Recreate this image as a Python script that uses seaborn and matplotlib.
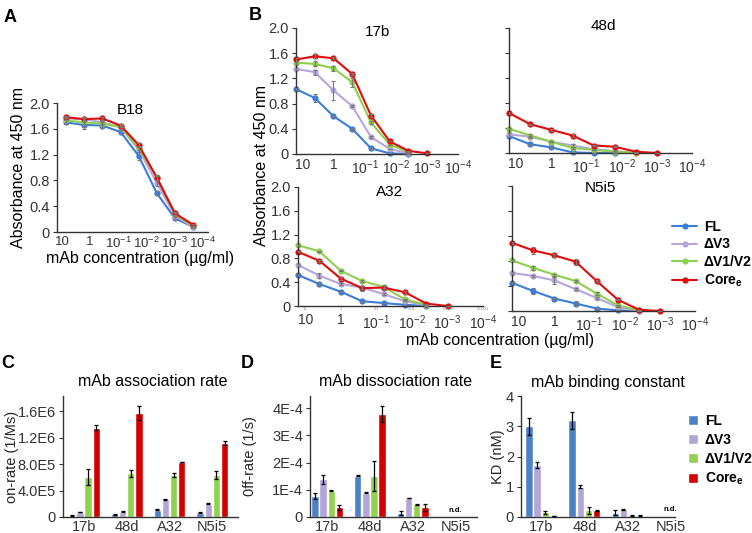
import matplotlib
matplotlib.use('Agg')
import matplotlib.pyplot as plt
from matplotlib.ticker import FixedLocator, FixedFormatter, NullLocator
import numpy as np
import pandas as pd
import seaborn as sns

nan = np.nan

# construções e cores
construcoes = ['FL', 'ΔV3', 'ΔV1/V2', 'Core$_{\\mathbf{e}}$']
cores_linha = ['#3b7dd8', '#b6a6dc', '#8dcf4e', '#e00c0c']
cores_barra = ['#4b82c6', '#b4a5d7', '#91d14f', '#d40000']

# A - B18 (ordem: FL, dV3, dV1/V2, Core)
conc_a = [7.4, 1.66, 0.37, 0.083, 0.019, 0.0043, 0.00098, 0.00022]
b18 = [
    [1.70, 1.66, 1.65, 1.55, 1.18, 0.60, 0.21, 0.08],
    [1.76, 1.75, 1.70, 1.62, 1.28, 0.76, 0.25, 0.08],
    [1.73, 1.70, 1.68, 1.63, 1.30, 0.85, 0.28, 0.09],
    [1.78, 1.75, 1.76, 1.65, 1.35, 0.84, 0.29, 0.11],
]
b18_err = [
    [0.03, 0.06, 0.03, 0.03, 0.06, 0.03, 0.02, 0.02],
    [0.02, 0.03, 0.02, 0.03, 0.04, 0.04, 0.02, 0.01],
    [0.05, 0.02, 0.02, 0.03, 0.03, 0.04, 0.02, 0.01],
    [0.02, 0.02, 0.02, 0.02, 0.03, 0.03, 0.02, 0.01],
]

# B - diluições das curvas
conc_b = [16, 4, 1, 0.25, 0.0625, 0.0156, 0.0039, 0.00098]
m17b = [
    [1.03, 0.89, 0.60, 0.40, 0.09, 0.01, 0.0, nan],
    [1.35, 1.30, 1.01, 0.76, 0.27, 0.08, 0.01, nan],
    [1.45, 1.43, 1.36, 1.14, 0.50, 0.15, 0.03, nan],
    [1.50, 1.55, 1.52, 1.27, 0.61, 0.20, 0.05, 0.01],
]
m17b_err = [
    [0.02, 0.06, 0.01, 0.02, 0.01, 0.0, 0.0, 0.0],
    [0.02, 0.04, 0.15, 0.02, 0.02, 0.0, 0.0, 0.0],
    [0.02, 0.04, 0.04, 0.07, 0.02, 0.0, 0.0, 0.0],
    [0.02, 0.03, 0.02, 0.02, 0.02, 0.0, 0.0, 0.0],
]
m48d = [
    [0.27, 0.14, 0.09, 0.01, 0.0, 0.0, nan, nan],
    [0.30, 0.26, 0.18, 0.12, 0.06, 0.03, 0.0, nan],
    [0.39, 0.28, 0.18, 0.08, 0.05, 0.02, 0.0, nan],
    [0.64, 0.46, 0.37, 0.28, 0.12, 0.10, 0.02, 0.0],
]
m48d_err = [
    [0.01, 0.01, 0.01, 0.0, 0.0, 0.0, 0.0, 0.0],
    [0.02, 0.02, 0.01, 0.02, 0.01, 0.0, 0.0, 0.0],
    [0.01, 0.02, 0.01, 0.01, 0.0, 0.0, 0.0, 0.0],
    [0.01, 0.01, 0.01, 0.02, 0.01, 0.01, 0.0, 0.0],
]
a32 = [
    [0.52, 0.37, 0.24, 0.08, 0.05, 0.02, 0.0, nan],
    [0.69, 0.51, 0.37, 0.31, 0.20, 0.08, 0.01, nan],
    [1.02, 0.92, 0.59, 0.42, 0.32, 0.11, 0.02, nan],
    [0.91, 0.76, 0.46, 0.30, 0.31, 0.23, 0.04, 0.0],
]
a32_err = [
    [0.01, 0.01, 0.01, 0.01, 0.0, 0.0, 0.0, 0.0],
    [0.02, 0.04, 0.02, 0.02, 0.02, 0.0, 0.0, 0.0],
    [0.01, 0.01, 0.01, 0.02, 0.01, 0.01, 0.0, 0.0],
    [0.01, 0.02, 0.02, 0.04, 0.04, 0.02, 0.0, 0.0],
]
n5i5 = [
    [0.45, 0.32, 0.20, 0.12, 0.04, 0.01, 0.0, nan],
    [0.61, 0.56, 0.49, 0.35, 0.21, 0.06, 0.0, nan],
    [0.81, 0.69, 0.58, 0.48, 0.28, 0.09, 0.01, nan],
    [1.09, 0.97, 0.89, 0.79, 0.48, 0.18, 0.02, 0.0],
]
n5i5_err = [
    [0.02, 0.05, 0.01, 0.04, 0.01, 0.0, 0.0, 0.0],
    [0.01, 0.02, 0.05, 0.02, 0.01, 0.0, 0.0, 0.0],
    [0.01, 0.03, 0.02, 0.02, 0.02, 0.01, 0.0, 0.0],
    [0.01, 0.05, 0.02, 0.05, 0.02, 0.01, 0.0, 0.0],
]

# C, D, E - cinética
mabs = ['17b', '48d', 'A32', 'N5i5']
on_rate = [
    [2.0e4, 4.0e4, 1.1e5, 6.5e4],
    [7.5e4, 8.0e4, 2.7e5, 2.0e5],
    [6.0e5, 6.6e5, 6.4e5, 6.4e5],
    [1.35e6, 1.57e6, 8.3e5, 1.12e6],
]
on_err = [
    [5e3, 5e3, 5e3, 5e3],
    [6e3, 5e3, 8e3, 6e3],
    [1.2e5, 5e4, 3e4, 6e4],
    [4e4, 1.1e5, 0, 3e4],
]
off_rate = [
    [0.77e-4, 1.52e-4, 0.15e-4, nan],
    [1.39e-4, 0.89e-4, 0.70e-4, nan],
    [0.97e-4, 1.52e-4, 0.47e-4, nan],
    [0.35e-4, 3.80e-4, 0.35e-4, nan],
]
off_err = [
    [0.12e-4, 0.01e-4, 0.08e-4, 0],
    [0.17e-4, 0.02e-4, 0.01e-4, 0],
    [0.02e-4, 0.55e-4, 0.02e-4, 0],
    [0.10e-4, 0.30e-4, 0.12e-4, 0],
]
kd = [
    [3.0, 3.2, 0.14, nan],
    [1.72, 1.0, 0.25, nan],
    [0.15, 0.22, 0.06, nan],
    [0.03, 0.22, 0.04, nan],
]
kd_err = [
    [0.28, 0.28, 0.08, 0],
    [0.10, 0.05, 0.02, 0],
    [0.05, 0.12, 0.02, 0],
    [0.01, 0.02, 0.01, 0],
]

sns.set_theme(style='ticks')
plt.rcParams['font.family'] = ['Liberation Sans', 'DejaVu Sans']
plt.rcParams['mathtext.fontset'] = 'custom'
plt.rcParams['mathtext.rm'] = 'Liberation Sans'
plt.rcParams['mathtext.it'] = 'Liberation Sans:italic'
plt.rcParams['mathtext.bf'] = 'Liberation Sans:bold'
plt.rcParams['axes.edgecolor'] = '#333333'
plt.rcParams['axes.linewidth'] = 1.0
plt.rcParams['xtick.color'] = '#333333'
plt.rcParams['ytick.color'] = '#333333'
plt.rcParams['text.color'] = 'black'

L, H = 752, 533
fig = plt.figure(figsize=(L / 100, H / 100), dpi=100)


def eixo(x0, y0, x1, y1):   # eixo em coordenadas de pixel
    return fig.add_axes([x0 / L, 1 - y1 / H, (x1 - x0) / L, (y1 - y0) / H])


def texto(x, y, s, **kw):
    fig.text(x / L, 1 - y / H, s, **kw)


rot_x = ['10', '1', '$10^{-1}$', '$10^{-2}$', '$10^{-3}$', '$10^{-4}$']
pos_x = [10, 1, 0.1, 0.01, 0.001, 0.0001]


def curvas(ax, conc, series, erros, xlim, rot_y=True, fs_x=10, pad_x=3, legenda=False):
    df = pd.DataFrame([
        {'conc': c, 'abs': v, 'construcao': nome}
        for nome, vals in zip(construcoes, series)
        for c, v in zip(conc, vals)
    ]).dropna()
    ax.set_xscale('log')
    sns.lineplot(data=df, x='conc', y='abs', hue='construcao',
                 hue_order=construcoes, palette=cores_linha, marker='o',
                 markersize=4.5, markeredgewidth=0, linewidth=1.5,
                 estimator=None, legend=legenda, ax=ax, clip_on=False)
    for vals, errs in zip(series, erros):
        ax.errorbar(conc, vals, yerr=errs, fmt='none', ecolor='#7a7a7a',
                    elinewidth=0.8, capsize=1.5, capthick=0.8, zorder=3)
    ax.set_xlim(xlim)
    ax.set_ylim(0, 2.0)
    ax.xaxis.set_major_locator(FixedLocator(pos_x))
    ax.xaxis.set_major_formatter(FixedFormatter(rot_x))
    ax.xaxis.set_minor_locator(NullLocator())
    ax.set_yticks([0, 0.4, 0.8, 1.2, 1.6, 2.0])
    if rot_y:
        ax.set_yticklabels(['0', '0.4', '0.8', '1.2', '1.6', '2.0'])
    else:
        ax.set_yticklabels([])
    ax.tick_params(axis='x', length=0, pad=pad_x, labelsize=fs_x)
    ax.tick_params(axis='y', length=3, width=0.8, pad=2, labelsize=10.5)
    ax.set_xlabel('')
    ax.set_ylabel('')
    sns.despine(ax=ax)


def barras(ax, valores, erros, xlim, ylim, yticks, yrot, legenda=False):
    df = pd.DataFrame([
        {'mab': m, 'valor': v, 'construcao': nome}
        for nome, vals in zip(construcoes, valores)
        for m, v in zip(mabs, vals)
    ]).dropna()
    sns.barplot(data=df, x='mab', y='valor', hue='construcao', order=mabs,
                hue_order=construcoes, palette=cores_barra, saturation=1,
                width=0.76, gap=0.1, errorbar=None, legend=legenda, ax=ax)
    for cont, errs in zip(list(ax.containers), erros):
        for barra in cont:
            xc = barra.get_x() + barra.get_width() / 2
            i = int(round(xc))
            ax.errorbar(xc, barra.get_height(), yerr=errs[i], fmt='none',
                        ecolor='black', elinewidth=0.9, capsize=1.6,
                        capthick=0.9, zorder=3)
    ax.set_xlim(xlim)
    ax.set_ylim(ylim)
    ax.set_yticks(yticks)
    ax.set_yticklabels(yrot)
    ax.tick_params(axis='x', length=0, pad=2, labelsize=10.5)
    ax.tick_params(axis='y', length=3, width=0.8, pad=2, labelsize=10.5)
    ax.set_xlabel('')
    sns.despine(ax=ax)


# A
ax_a = eixo(57, 103, 208, 232)
curvas(ax_a, conc_a, b18, b18_err, (15, 6.6e-5), fs_x=9.5)
texto(130, 110, 'B18', ha='center', va='center', fontsize=11)
texto(19, 168, 'Absorbance at 450 nm', rotation=90, ha='center', va='center', fontsize=11.5)
texto(140, 258, 'mAb concentration (µg/ml)', ha='center', va='center', fontsize=11.5)

# B
ax_17b = eixo(296, 28, 458, 154)
curvas(ax_17b, conc_b, m17b, m17b_err, (16, 1e-4))
ax_48d = eixo(509, 28, 692, 153)
curvas(ax_48d, conc_b, m48d, m48d_err, (16, 1e-4), rot_y=False)
ax_a32 = eixo(298, 187, 483, 306)
curvas(ax_a32, conc_b, a32, a32_err, (16, 1e-4), pad_x=5)
for p, s in zip(pos_x, ['10', '1', '0.1', '0.01', '0.001', '0.0001']):
    ax_a32.text(p, -0.022, s, transform=ax_a32.get_xaxis_transform(),
                ha='center', va='center', fontsize=3, color='#8a8a8a')
ax_n5i5 = eixo(512, 186, 695, 311)
curvas(ax_n5i5, conc_b, n5i5, n5i5_err, (16, 1e-4), rot_y=False, legenda=True)

h, l = ax_n5i5.get_legend_handles_labels()
ax_n5i5.get_legend().remove()
fig.legend(h, l, loc='upper left', bbox_to_anchor=(672 / L, 1 - 220 / H),
           frameon=False, prop={'weight': 'bold', 'size': 10},
           handlelength=1.8, handletextpad=0.5, labelspacing=0.25,
           borderaxespad=0, borderpad=0)

texto(378, 32, '17b', ha='center', va='center', fontsize=11)
texto(603, 26, '48d', ha='center', va='center', fontsize=11)
texto(390, 192, 'A32', ha='center', va='center', fontsize=11)
texto(600, 188, 'N5i5', ha='center', va='center', fontsize=11)
texto(261, 165, 'Absorbance at 450 nm', rotation=90, ha='center', va='center', fontsize=11.5)
texto(500, 341, 'mAb concentration (µg/ml)', ha='center', va='center', fontsize=11.5)

# C
ax_c = eixo(63, 396, 238, 517)
barras(ax_c, on_rate, on_err, (-0.49, 3.6), (0, 1.83e6),
       [0, 4e5, 8e5, 1.2e6, 1.6e6], ['0', '4.0E5', '8.0E5', '1.2E6', '1.6E6'])
ax_c.set_ylabel('on-rate (1/Ms)', fontsize=10.5)
ax_c.yaxis.set_label_coords((19 - 63) / 175, 0.5)
texto(153, 382, 'mAb association rate', ha='center', va='center', fontsize=11.5)

# D
ax_d = eixo(310, 396, 477, 517)
barras(ax_d, off_rate, off_err, (-0.4, 3.5), (0, 4.45e-4),
       [0, 1e-4, 2e-4, 3e-4, 4e-4], ['0', '1E-4', '2E-4', '3E-4', '4E-4'])
ax_d.set_ylabel('0ff-rate (1/s)', fontsize=10.5)
ax_d.yaxis.set_label_coords((257 - 310) / 167, 0.5)
ax_d.text(3, 0.05, 'n.d.', transform=ax_d.get_xaxis_transform(),
          ha='center', va='center', fontsize=5.5, fontweight='bold')
texto(396, 382, 'mAb dissociation rate', ha='center', va='center', fontsize=11.5)

# E
ax_e = eixo(521, 396, 675, 517)
barras(ax_e, kd, kd_err, (-0.47, 3.1), (0, 4),
       [0, 1, 2, 3, 4], ['0', '1', '2', '3', '4'], legenda=True)
ax_e.set_ylabel('KD (nM)', fontsize=10.5)
ax_e.yaxis.set_label_coords((505 - 521) / 154, 0.5)
ax_e.text(3, 0.06, 'n.d.', transform=ax_e.get_xaxis_transform(),
          ha='center', va='center', fontsize=5.5, fontweight='bold')
texto(608, 382, 'mAb binding constant', ha='center', va='center', fontsize=11.5)

h, l = ax_e.get_legend_handles_labels()
ax_e.get_legend().remove()
fig.legend(h, l, loc='upper left', bbox_to_anchor=(688 / L, 1 - 414 / H),
           frameon=False, prop={'weight': 'bold', 'size': 10},
           handlelength=0.7, handleheight=0.7, handletextpad=0.5,
           labelspacing=0.35, borderaxespad=0, borderpad=0)

# letras dos painéis
for x, y, s in [(10, 18, 'A'), (255, 15, 'B'), (8, 364, 'C'), (247, 364, 'D'), (496, 364, 'E')]:
    texto(x, y, s, ha='center', va='center', fontsize=13, fontweight='bold')

fig.savefig('out.png', dpi=100)
